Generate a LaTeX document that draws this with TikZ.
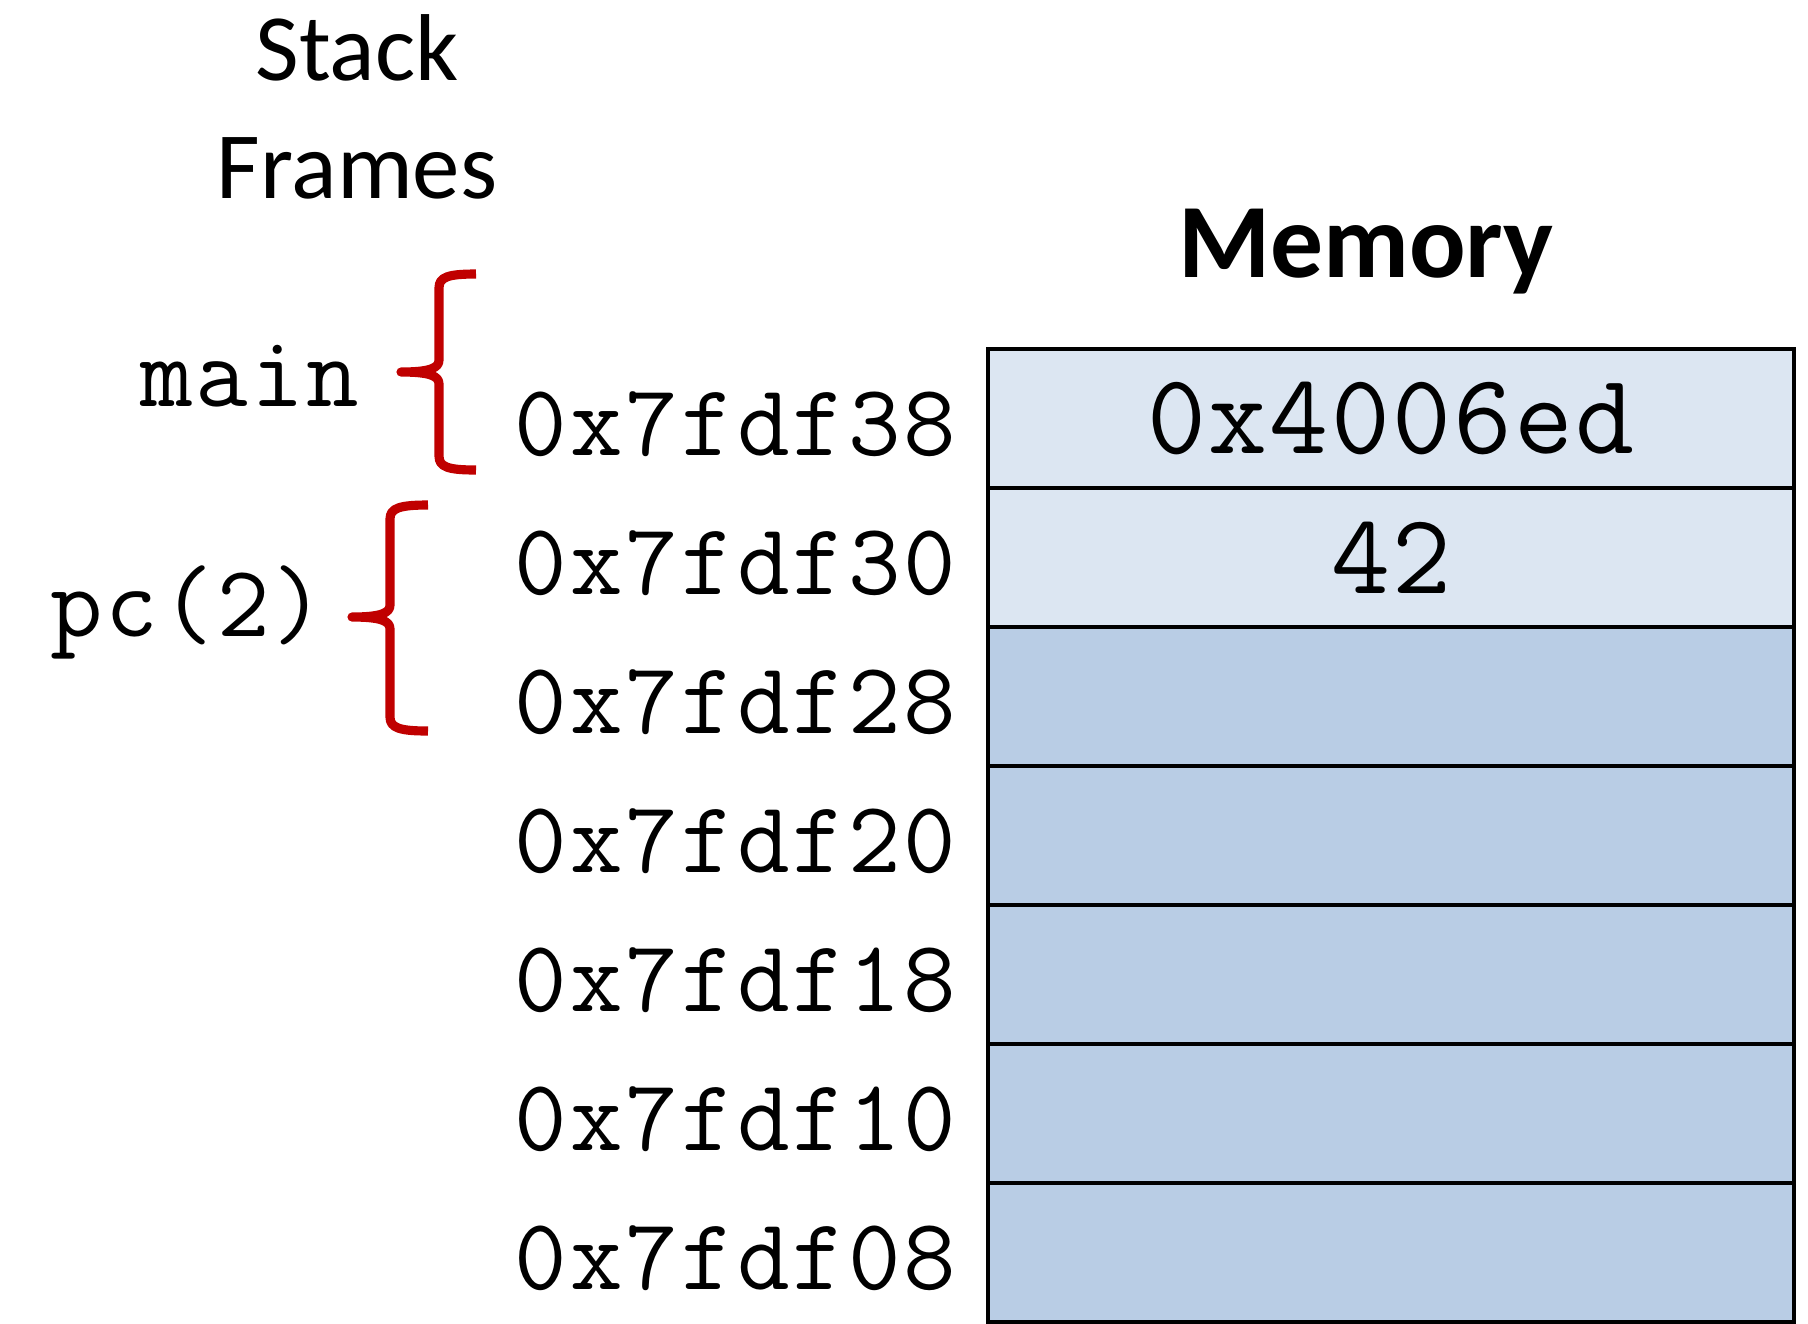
\documentclass[tikz,border=0pt]{standalone}
\usepackage{fontspec}
\setmainfont{Carlito}
\newfontfamily\addrfont[LetterSpace=3]{Latin Modern Mono}
\newfontfamily\valfont[LetterSpace=2]{Latin Modern Mono}
\usetikzlibrary{positioning}
\definecolor{cellhi}{HTML}{DCE6F2}
\definecolor{celllo}{HTML}{B9CDE5}
\definecolor{bracered}{HTML}{C00000}
\begin{document}
\begin{tikzpicture}[
    x=0.01cm, y=0.01cm,
    cell/.style={draw, line width=1pt, minimum width=8.06cm, minimum height=1.39cm, inner sep=0pt, font=\valfont\fontsize{32.5}{38}\selectfont},
    addr/.style={anchor=base east, inner sep=0pt, font=\addrfont\fontsize{29}{35}\selectfont},
    frm/.style={anchor=base east, inner sep=0pt, font=\addrfont\fontsize{29}{35}\selectfont},
    brace/.style={draw=bracered, line width=2.6pt, line join=round}
]
\useasboundingbox (0,0) rectangle (1808,-1323);

% titles
\node[anchor=base, inner sep=0pt, align=center, font=\fontsize{27}{33.5}\selectfont] (stk) at (357,-198) {Stack\\Frames};
\node[anchor=base, inner sep=0pt, font=\bfseries\fontsize{30}{36}\selectfont] (mem) at (1366,-277) {Memory};

% memory cells
\node[cell, fill=cellhi] (m38) at (1391,-418.5) {0x4006ed};
\node[cell, fill=cellhi] (m30) at (1391,-557.5) {42};
\node[cell, fill=celllo] (m28) at (1391,-696.5) {};
\node[cell, fill=celllo] (m20) at (1391,-835.5) {};
\node[cell, fill=celllo] (m18) at (1391,-974.5) {};
\node[cell, fill=celllo] (m10) at (1391,-1113.5) {};
\node[cell, fill=celllo] (m08) at (1391,-1252.5) {};

% addresses
\node[addr] (a38) at (957,-455.5) {0x7fdf38};
\node[addr] (a30) at (957,-594.5) {0x7fdf30};
\node[addr] (a28) at (957,-733.5) {0x7fdf28};
\node[addr] (a20) at (957,-872.5) {0x7fdf20};
\node[addr] (a18) at (957,-1011.5) {0x7fdf18};
\node[addr] (a10) at (957,-1150.5) {0x7fdf10};
\node[addr] (a08) at (957,-1289.5) {0x7fdf08};

% frames
\node[frm] (fmain) at (360,-406) {main};
\node[frm] (fpc) at (326,-636) {pc(2)};

\draw[brace] (476,-274) .. controls (448,-274) and (439,-277) .. (439,-288) -- (439,-360)
    .. controls (439,-368) and (430,-372) .. (401,-372)
    .. controls (430,-372) and (439,-376) .. (439,-384) -- (439,-456)
    .. controls (439,-467) and (448,-470) .. (476,-470);
\draw[brace] (428,-505) .. controls (400,-505) and (390,-508) .. (390,-519) -- (390,-605)
    .. controls (390,-613) and (381,-617) .. (352,-617)
    .. controls (381,-617) and (390,-621) .. (390,-629) -- (390,-717)
    .. controls (390,-728) and (400,-731) .. (428,-731);
\end{tikzpicture}
\end{document}
